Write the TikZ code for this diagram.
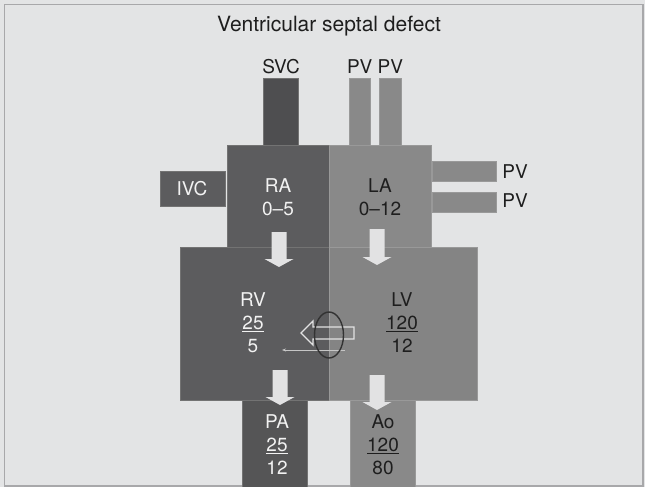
\documentclass[tikz,border=0pt]{standalone}
\usepackage{fontspec}
\setmainfont{TeX Gyre Heros}
\usepackage{tikz}
\usetikzlibrary{
	arrows.meta,
	calc
}
\definecolor{PageGray}{RGB}{227,228,229}
\definecolor{FrameGray}{RGB}{168,168,170}
\definecolor{RightDark}{RGB}{92,92,94}
\definecolor{RightDeep}{RGB}{78,78,80}
\definecolor{LeftLight}{RGB}{137,137,137}
\definecolor{FlowWhite}{RGB}{226,226,227}
\definecolor{InkDark}{RGB}{30,30,30}

\begin{document}
\begin{tikzpicture}[x=1pt, y=-1pt,
	chambertext/.style={font=\fontsize{19}{23}\selectfont, text=InkDark, inner sep=0pt, align=center},
	lighttext/.style={chambertext, text=white!95!black},
	rightside/.style={fill=RightDark, draw=black!55, line width=0.5pt},
	leftside/.style={fill=LeftLight, draw=black!40, line width=0.5pt},
	flow/.style={fill=FlowWhite, draw=none}]
		% 背景与边框
		\fill[PageGray] (0,0) rectangle (645,487);
		\useasboundingbox (0,0) rectangle (645,487);
		\draw[FrameGray, line width=1.5pt] (4.5,4.5) rectangle (643,486);
		
		\node[chambertext, font=\fontsize{21}{25}\selectfont] (title) at (329,26) {Ventricular septal defect};
		
		% 静脉
		\fill[RightDeep, draw=black!55, line width=0.5pt] (263,78) rectangle (298,145);
		\fill[leftside] (349,78) rectangle (370,145);
		\fill[leftside] (379,78) rectangle (401,145);
		\fill[rightside] (160,171) rectangle (225,206);
		\fill[leftside] (432,161) rectangle (496,181);
		\fill[leftside] (432,192) rectangle (496,212);
		\node[chambertext] (svc) at (281,67) {SVC};
		\node[chambertext] (pvtop) at (375,67) {PV PV};
		\node[chambertext] (pvup) at (515,172) {PV};
		\node[chambertext] (pvlow) at (515,201) {PV};
		\node[lighttext] (ivc) at (192,189) {IVC};
		
		% 心房
		\fill[rightside] (227,145) rectangle (329,247);
		\fill[leftside] (329,145) rectangle (431,247);
		\node[lighttext] (ra) at (278,197) {RA\\0--5};
		\node[chambertext] (la) at (380,197) {LA\\0--12};
		
		% 心室
		\fill[rightside] (180,247) rectangle (329,400);
		\fill[leftside, fill=LeftLight!96!black] (329,247) rectangle (477,400);
		\node[lighttext] (rv) at (253,323) {RV\\\underline{25}\\5};
		\node[chambertext] (lv) at (402,323) {LV\\\underline{120}\\12};
		
		% 大动脉
		\fill[rightside, fill=RightDark!92!black] (242,400) rectangle (307,490);
		\fill[leftside] (350,400) rectangle (415,490);
		\node[lighttext] (pa) at (277,445) {PA\\\underline{25}\\12};
		\node[chambertext] (ao) at (383,445) {Ao\\\underline{120}\\80};
		
		% 血流方向
		\foreach \cx/\ty/\tp in {279/232/267, 377/229/265, 280/370/405, 377/375/410} {
			\fill[flow] (\cx-7.5,\ty) -- (\cx+7.5,\ty) -- (\cx+7.5,\tp-8) -- (\cx+14.5,\tp-8)
				-- (\cx,\tp) -- (\cx-14.5,\tp-8) -- (\cx-7.5,\tp-8) -- cycle;
		}
		
		% 室间隔缺损分流
		\draw[FlowWhite, line width=1.3pt, line join=miter] (354,327) -- (313,327) -- (313,321)
			-- (301,333) -- (313,345) -- (313,339) -- (354,339) -- cycle;
		\coordinate (shuntstart) at (345,350);
		\coordinate (shuntend) at (282,350);
		\draw[-{Stealth[length=4pt, width=3pt]}, gray!45, line width=0.8pt] (shuntstart) -- (shuntend);
		\draw[black!80, line width=1.4pt] (329,335) ellipse [x radius=14.5pt, y radius=23pt];
		
	\end{tikzpicture}
\end{document}
